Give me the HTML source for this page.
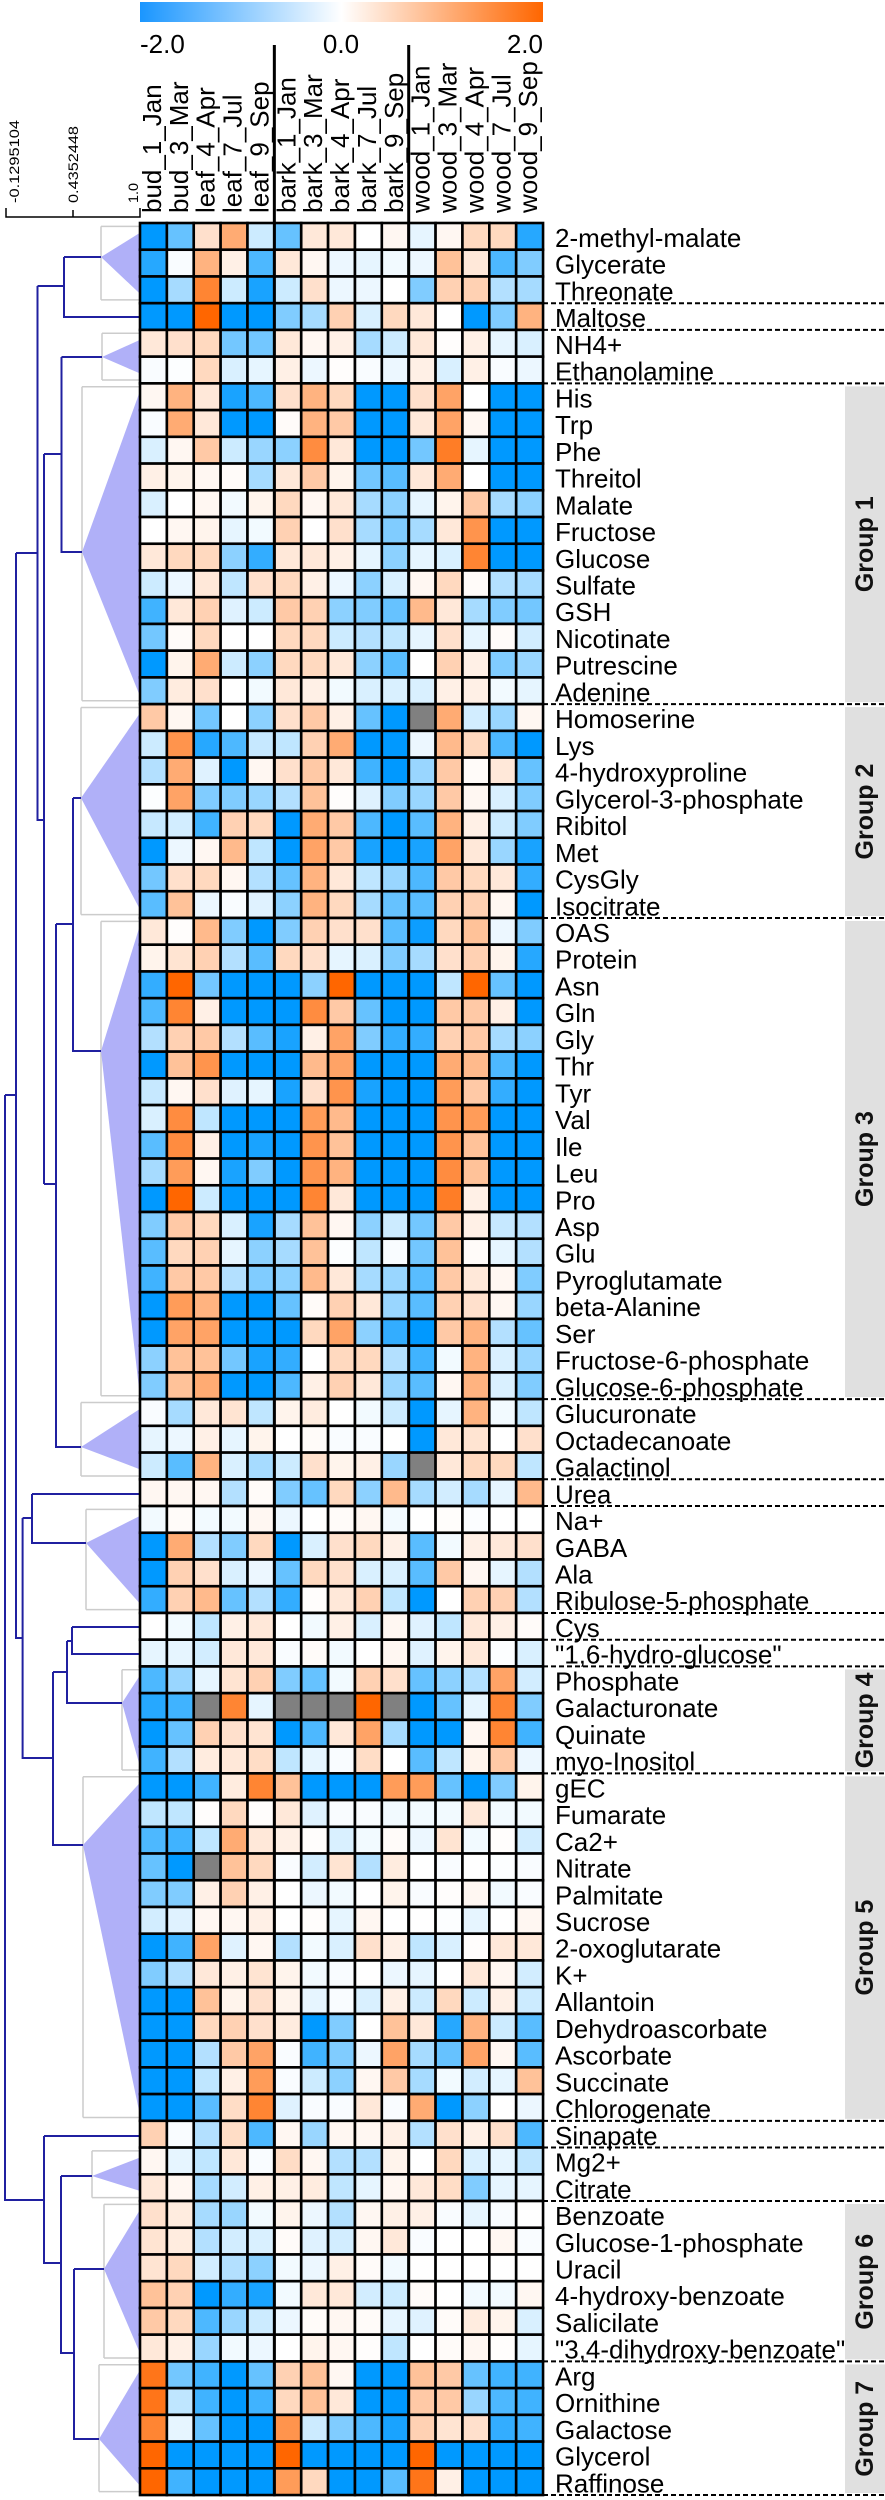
<!DOCTYPE html>
<html><head><meta charset="utf-8"><title>Metabolite heatmap</title>
<style>
html,body{margin:0;padding:0;background:#fff;}
svg{display:block;font-family:"Liberation Sans",Arial,sans-serif;}
</style></head>
<body>
<svg id="chart" width="885" height="2500" viewBox="0 0 885 2500" xmlns="http://www.w3.org/2000/svg">
<defs>
<linearGradient id="cbar" x1="0" x2="1" y1="0" y2="0">
<stop offset="0" stop-color="#1a96ff"/><stop offset="0.5" stop-color="#ffffff"/><stop offset="1" stop-color="#ff6600"/>
</linearGradient>
</defs>
<rect x="140" y="2" width="403" height="20" fill="url(#cbar)"/>
<g id="g-dendro"></g>
<g id="g-cells"></g>
<g id="g-labels"></g>
</svg>
<script>
const samples = ["bud_1_Jan","bud_3_Mar","leaf_4_Apr","leaf_7_Jul","leaf_9_Sep","bark_1_Jan","bark_3_Mar","bark_4_Apr","bark_7_Jul","bark_9_Sep","wood_1_Jan","wood_3_Mar","wood_4_Apr","wood_7_Jul","wood_9_Sep"];
const metabolites = ["2-methyl-malate","Glycerate","Threonate","Maltose","NH4+","Ethanolamine","His","Trp","Phe","Threitol","Malate","Fructose","Glucose","Sulfate","GSH","Nicotinate","Putrescine","Adenine","Homoserine","Lys","4-hydroxyproline","Glycerol-3-phosphate","Ribitol","Met","CysGly","Isocitrate","OAS","Protein","Asn","Gln","Gly","Thr","Tyr","Val","Ile","Leu","Pro","Asp","Glu","Pyroglutamate","beta-Alanine","Ser","Fructose-6-phosphate","Glucose-6-phosphate","Glucuronate","Octadecanoate","Galactinol","Urea","Na+","GABA","Ala","Ribulose-5-phosphate","Cys","\"1,6-hydro-glucose\"","Phosphate","Galacturonate","Quinate","myo-Inositol","gEC","Fumarate","Ca2+","Nitrate","Palmitate","Sucrose","2-oxoglutarate","K+","Allantoin","Dehydroascorbate","Ascorbate","Succinate","Chlorogenate","Sinapate","Mg2+","Citrate","Benzoate","Glucose-1-phosphate","Uracil","4-hydroxy-benzoate","Salicilate","\"3,4-dihydroxy-benzoate\"","Arg","Ornithine","Galactose","Glycerol","Raffinose"];
const N = null;
const zValues = [
[-2,-1.2,0.4,1.1,-0.4,-1.2,0.3,0.3,0,0.1,-0.2,0.1,0.5,0.5,-1.7],
[-1.7,-0.05,1.0,0.2,-1.4,0.3,0.1,-0.15,-0.2,-0.1,-0.15,0.8,0.3,-1.4,-1.0],
[-2,-0.7,1.6,-0.4,-1.8,-0.4,0.4,-0.15,-0.15,0,-1.0,0.6,0.6,-0.6,-0.7],
[-2,-2,2,-2,-2,-1.0,-0.7,0.6,-0.3,0.5,0.3,0,-2,-1.0,1.0],
[0.3,0.4,0.5,-1.1,-1.1,0.3,0.1,0.2,-0.7,-0.4,0.3,0.02,0.2,-0.2,-0.3],
[-0.05,-0.02,0.5,-0.3,-0.2,0.2,-0.15,0.02,-0.05,-0.15,0.2,-0.3,0.2,-0.05,-0.15],
[0.1,1.0,0.3,-1.8,-1.4,0.4,1.0,0.5,-2,-2,0.4,1.2,0,-2,-2],
[-0.05,1.1,0.3,-2,-2,0.05,1.0,0.7,-2,-2,0.3,1.2,0.1,-2,-2],
[-0.3,0.1,0.7,-0.4,-0.8,-0.9,1.5,0.3,-2,-2,-1.1,1.7,-0.2,-2,-2],
[0.2,0.15,0.1,0.05,-0.7,0.3,0.7,0.15,-1.1,-1.3,0.3,1.1,0,-2,-2],
[-0.3,0,0.1,-0.1,0.15,0.5,0.1,0.3,-0.7,-0.9,-0.2,0.15,0.7,-0.7,-0.9],
[0,0.1,0.15,-0.2,-0.1,0.6,0,0.4,-0.7,-1.0,-0.7,0.3,1.4,-2,-2],
[0.3,0.5,0.5,-0.9,-1.6,0.3,0.3,0.2,-0.2,-0.9,-0.2,-0.3,1.6,-2,-2],
[-0.4,-0.15,0.3,-0.5,0.4,0.5,0.2,-0.15,-0.9,-0.3,0.1,0.5,0.05,-0.6,-0.7],
[-1.5,0.3,0.6,-0.25,-0.4,0.7,0.6,-0.9,-1.0,-1.2,0.9,0.3,-0.7,-1.0,-1.1],
[-1.1,0.05,0.5,0,0,0.5,0.5,-0.4,-0.6,-0.5,-0.2,0.4,-0.2,0.05,-0.35],
[-2,0.15,1.1,-0.4,-0.9,0.5,0.5,0.3,-0.9,-1.3,0,0.6,0.2,-1.0,-0.8],
[-1.0,0.25,0.4,0,-0.1,0.3,0.2,-0.1,-0.3,-0.3,-0.3,0.2,0.2,-0.1,-0.2],
[0.7,0.1,-1.1,0,-0.9,0.4,0.7,0.2,-1.2,-2,N,1.1,-0.35,-0.8,0.1],
[-0.4,1.4,-1.7,-1.4,-0.45,-0.5,0.6,1.1,-2,-2,-0.15,0.9,0.5,-1.4,-2],
[-0.6,1.1,-0.25,-2,0.1,0.4,0.7,0.3,-1.5,-2,-0.8,0.7,0.05,0.3,-1.2],
[-0.02,1.2,-1.0,-1.0,-0.8,-0.6,0.8,0.02,-0.25,-1.0,-0.8,0.7,0.1,-0.3,-1.0],
[-0.45,-0.35,-1.5,0.6,0.5,-2,1.1,0.7,-1.4,-2,-1.3,1.0,0.2,-0.4,-1.0],
[-2,-0.15,0.1,0.9,-0.5,-2,1.2,0.7,-1.8,-2,-1.8,1.2,0.3,-0.8,-1.8],
[-1.1,0.4,0.5,0.1,-0.6,-1.2,1.0,0.3,-0.5,-0.8,-1.4,0.7,0.5,0.3,-1.6],
[-1.3,0.8,-0.15,-0.05,-0.25,-0.9,1.0,0.5,-0.7,-1.2,-1.3,0.6,0.6,0.1,-2],
[0.3,0.02,0.9,-1.0,-2,-1.0,0.6,0.4,0.4,-1.3,-1.9,0.5,0.8,-0.15,-1.0],
[0.15,0.35,0.6,-0.6,-1.3,0.5,0.4,-0.2,-0.3,-1.0,-0.7,0.4,0.6,0.15,-1.7],
[-1.6,2,-1.1,-2,-2,-2,-0.9,2,-2,-2,-2,-0.5,2,-1.2,-2],
[-1.4,1.6,0.2,-2,-2,-2,1.5,0.7,-1.2,-2,-2,0.7,0.7,0.2,-2],
[-0.6,0.6,0.7,-0.6,-1.3,-1.8,0.2,1.2,-1.0,-1.6,-1.6,0.6,0.7,-0.7,-0.9],
[-2,0.8,1.4,-2,-2,-2,0.9,1.2,-2,-2,-2,1.1,0.9,-1.4,-2],
[-0.45,0.1,0.4,-0.25,-0.2,-1.8,0.4,1.4,-1.8,-2,-2,1.3,0.7,-1.6,-2],
[-0.3,1.5,-0.5,-2,-2,-2,1.3,0.9,-2,-2,-2,1.4,1.3,-2,-2],
[-1.3,1.5,0.2,-2,-1.8,-2,1.4,0.8,-2,-2,-2,1.4,0.8,-2,-2],
[-0.7,1.3,0.1,-1.8,-1.0,-2,1.4,1.0,-2,-2,-2,1.5,0.8,-2,-2],
[-2,2,-0.4,-2,-2,-2,1.6,0.3,-2,-2,-2,1.7,0.2,-2,-2],
[-1.0,0.7,0.5,-0.3,-1.8,-0.7,0.8,0.1,-0.9,-0.4,-1.1,0.7,0.2,-0.45,-0.6],
[-1.3,0.5,0.6,-0.2,-0.9,-0.7,0.8,-0.02,-0.5,-0.05,-1.1,0.8,0.05,-0.2,-0.6],
[-1.5,0.7,0.7,-0.6,-1.0,-0.9,0.9,0.3,-0.7,-0.8,-1.3,0.7,0.3,0.1,-1.0],
[-2,1.3,1.0,-2,-2,-1.2,0.05,0.6,0.3,-0.8,-1.3,0.6,0.4,0.1,-0.8],
[-2,1.2,1.2,-2,-2,-2,0.5,1.2,-0.9,-1.6,-2,0.7,1.0,-0.6,-1.2],
[-0.9,0.8,0.8,-1.1,-1.8,-1.6,0,0.5,0.5,-0.6,-1.5,-0.1,1.0,-0.3,-0.8],
[-1.0,0.8,1.1,-2,-2,-1.4,0.2,0.6,0.3,-0.8,-1.3,0.1,1.0,-0.3,-1.0],
[-0.05,-0.7,0.3,0.35,-0.5,0.15,0.25,0,-0.1,-0.4,-2,-0.2,1.0,-0.1,-0.5],
[-0.2,-0.15,0.2,-0.2,0.15,0,0.05,-0.05,-0.05,0,-2,0.3,0.35,0,0.4],
[-0.4,-1.3,1.0,-0.3,-0.7,-0.4,0.4,0.15,0.2,-0.8,N,0.3,0.5,0.5,-0.5],
[0.1,0.1,0.1,-0.6,0.05,-1.0,-1.2,0.5,-0.9,0.9,-0.7,-0.35,-0.7,-0.2,0.9],
[-0.1,0.05,-0.1,-0.1,0.1,-0.15,0,0.05,0.1,-0.1,0,0.03,-0.03,0,0],
[-2,1.1,-0.6,-1.0,0.5,-2,-0.3,0.4,0.5,0.2,-1.3,-0.1,0.2,0.3,0.4],
[-2,0.6,0.4,-0.3,-0.15,-1.2,0.5,0.4,-0.3,-0.3,-1.3,0.7,0.1,-0.2,-0.6],
[-1.6,0.6,0.9,-1.2,-0.6,-1.6,0.02,0.3,0.6,-0.5,-2,0,0.6,0.6,-0.6],
[0,-0.1,-0.5,0.2,0.3,0,-0.1,0.2,-0.3,0.1,-0.25,-0.5,0.3,0.2,0.05],
[-0.2,-0.2,-0.35,0.3,0.3,-0.05,0.05,-0.1,0,0.1,-0.25,0.15,0.3,-0.02,-0.3],
[-1.4,-0.8,-0.2,0.35,0.6,-1.0,-1.2,-0.1,0.6,0.4,-1.2,-0.9,-0.6,1.2,-0.35],
[-1.7,-1.5,N,1.6,-0.2,N,N,N,2,N,-2,-1.2,-0.2,1.6,-1.0],
[-2,-1.2,0.6,0.4,0.35,-2,-1.4,0.3,1.2,-0.7,-2,-2,0.1,1.6,-1.5],
[-1.5,-0.6,0.25,0.3,0.45,-0.5,-0.2,-0.05,0.45,0,-1.3,-0.5,0.15,0.7,-0.15],
[-2,-2,-1.5,0.25,1.6,0.8,-2,-2,-2,1.3,1.3,-1.2,-2,-1.0,0.15],
[-0.5,-0.5,0.02,0.5,0.02,0.3,-0.25,-0.05,-0.05,-0.1,-0.1,-0.1,0.3,-0.1,-0.1],
[-1.4,-1.5,-0.5,1.1,0.3,0.2,0.02,-0.3,-0.1,0.05,-0.15,0.35,-0.1,0.02,-0.35],
[-1.2,-2,N,0.8,0.5,-0.05,-0.35,0.35,-0.6,0.25,0,-0.05,0,-0.02,-0.05],
[-1.0,-1.0,0.2,0.6,0.2,0,-0.15,-0.1,0,0.15,-0.05,0.02,0.1,-0.1,-0.05],
[-0.35,-0.25,0.1,0.1,0.2,0,0.02,-0.2,0.1,0,0,-0.02,-0.2,0,0.1],
[-2,-1.5,1.2,-0.25,0.1,-0.6,-0.1,-0.3,0.4,0.2,-0.5,-0.3,0.02,0.3,0.3],
[-1.0,-0.6,0.3,0.2,0.35,0.15,-0.1,-0.05,0,-0.15,-0.2,0,0.3,0.1,-0.35],
[-2,-2,0.8,0.15,0.4,0.15,-0.2,-0.05,-0.3,0.2,-0.4,0.5,-0.4,0.2,-0.4],
[-2,-2,0.5,0.6,0.4,0.25,-2,-1.0,0,0.8,0.3,-1.7,1.0,-0.4,-1.3],
[-2,-2,-0.6,0.7,1.2,-0.05,-1.5,-1.0,-0.15,1.2,-0.7,-1.2,1.2,0.1,-1.3],
[-2,-2,-0.5,0.2,1.3,-0.05,-0.4,-0.9,0.1,0.7,-0.7,-0.1,-0.35,-0.2,0.8],
[-2,-2,-1.3,0.45,1.6,-0.25,-0.05,-0.05,0.3,-0.05,1.1,-2,-0.9,0,-0.15],
[0.6,-0.05,-0.6,0.45,-1.4,0.1,-0.8,0.1,0.1,0.2,-0.6,0.4,0.2,0.4,-1.4],
[0.1,-0.2,-0.5,0.3,-0.05,0.45,0.1,-0.6,-0.6,0.15,0,0.5,-0.3,-0.2,-0.5],
[0.3,0.1,-0.7,-0.35,0.2,0.2,0.25,-0.5,-0.2,0.1,0.3,0.45,-1.0,-0.2,-0.2],
[0.4,0.25,-0.7,-0.8,-0.1,0.15,-0.15,-0.6,0.1,0.2,0.2,-0.05,-0.2,-0.05,0],
[0.35,0.25,-0.6,-0.35,-0.3,0.05,-0.25,-0.35,0.1,0.3,-0.05,0,0,0.1,-0.05],
[0.35,0.5,-0.35,-0.6,-0.9,-0.1,-0.15,0.2,0.05,-0.1,0,0,0,0,0],
[0.8,0.6,-2,-1.6,-1.8,-0.1,0.3,0.3,-0.35,-0.4,0.05,0,-0.1,-0.1,0.1],
[0.7,0.5,-1.4,-0.8,-0.4,-0.15,0.05,0.1,0.05,-0.2,-0.25,0.05,0.25,0.15,-0.3],
[0.3,0.2,-0.8,-0.1,-0.15,0,0.15,0.1,0.02,-0.5,0,0.05,0.1,0.02,-0.2],
[1.8,-1.1,-1.5,-2,-1.2,0.6,0.8,0.1,-2,-2,0.8,0.7,-1.2,-1.5,-1.5],
[1.8,-0.5,-1.5,-2,-1.5,0.5,0.8,0.3,-2,-2,0.7,0.7,-0.8,-1.4,-1.5],
[1.6,-0.2,-1.2,-2,-2,1.4,-0.4,-1.0,-1.4,-1.8,0.6,0.35,0.4,-1.6,-1.5],
[2,-2,-2,-2,-2,2,-2,-2,-2,-2,2,-2,-2,-2,-2],
[2,-1.5,-2,-2,-2,1.3,0.5,-2,-2,-1.3,1.8,0.2,-2,-2,-2]
];
const colorTicks = ["-2.0","0.0","2.0"];
const scaleTicks = ["-0.1295104","0.4352448","1.0"];
const groupNames = ["Group 1","Group 2","Group 3","Group 4","Group 5","Group 6","Group 7"];
const groupStart = [6,18,26,54,58,74,80];
const groupEnd = [17,25,43,57,70,79,84];
const dashedAfter = [2,3,5,17,25,43,46,47,51,52,53,57,70,71,73,79,84];

const NS = "http://www.w3.org/2000/svg";
const X0 = 140, CW = 26.87, Y0 = 223, RH = 26.73;
const xCol = i => X0 + i * CW;
const yRow = i => Y0 + i * RH;
const yMid = i => Y0 + (i + 0.5) * RH;
function colorFor(v) {
  if (v === null) return "#808080";
  const t = Math.max(-1, Math.min(1, v / 2));
  let r, g, b;
  if (t < 0) { const a = -t; r = 255 * (1 - a); g = 255 - (255 - 153) * a; b = 255; }
  else { const a = t; r = 255; g = 255 - (255 - 102) * a; b = 255 * (1 - a); }
  return "rgb(" + Math.round(r) + "," + Math.round(g) + "," + Math.round(b) + ")";
}
function mk(tag, attrs, parent) {
  const e = document.createElementNS(NS, tag);
  for (const k in attrs) e.setAttribute(k, attrs[k]);
  parent.appendChild(e);
  return e;
}
const gC = document.getElementById("g-cells");
const gL = document.getElementById("g-labels");
const gD = document.getElementById("g-dendro");

// cells
zValues.forEach((row, r) => {
  row.forEach((v, c) => {
    const rc = mk("rect", {x: xCol(c), y: yRow(r), width: CW, height: RH, fill: colorFor(v), stroke: "#000", "stroke-width": 2.6}, gC);
    
    
  });
});
// tissue separators
[5, 10].forEach(c => {
  const l = mk("line", {x1: xCol(c), x2: xCol(c), y1: 45, y2: yRow(metabolites.length), stroke: "#000", "stroke-width": 3}, gC);
  
  
});
// column labels
samples.forEach((s, c) => {
  const bx = xCol(c) + 21, by = 213;
  const t = mk("text", {x: 0, y: 0, transform: "translate(" + bx + "," + by + ") rotate(-90)", "font-size": 26, fill: "#000"}, gL);
  t.textContent = s;
  
  
});
// color ticks
const ctx = [X0, 341, 543], cta = ["start", "middle", "end"];
colorTicks.forEach((s, i) => {
  const t = mk("text", {x: ctx[i], y: 53, "font-size": 26, "text-anchor": cta[i], fill: "#000"}, gL);
  t.textContent = s;
  
  
});
// row labels
metabolites.forEach((m, r) => {
  const t = mk("text", {x: 555, y: yRow(r) + 24, "font-size": 26, fill: "#000"}, gL);
  t.textContent = m;
  
  
});
// group boxes
groupNames.forEach((g, i) => {
  const y1 = yRow(groupStart[i]) + 3, y2 = yRow(groupEnd[i] + 1) - 2;
  const b = mk("rect", {x: 845, y: y1, width: 40, height: y2 - y1, fill: "#e0e0e0"}, gL);
  
  
  const cy = (y1 + y2) / 2;
  const t = mk("text", {x: 0, y: 0, transform: "translate(873," + cy + ") rotate(-90)", "font-size": 25, "font-weight": "bold", "text-anchor": "middle", fill: "#111"}, gL);
  t.textContent = g;
  
  
});
// dashed separators
dashedAfter.forEach(r => {
  const y = yRow(r + 1);
  const l = mk("line", {x1: 543, x2: 885, y1: y, y2: y, stroke: "#000", "stroke-width": 2, "stroke-dasharray": "5,3"}, gL);
  
  
});
// scale bar
const sb = mk("path", {d: "M6,208 V217 H140 V208 M73,217 V210", stroke: "#000", "stroke-width": 1.5, fill: "none"}, gD);


const stx = [19, 78, 138], stl = [83, 77, 20];
scaleTicks.forEach((s, i) => {
  const t = mk("text", {x: 0, y: 0, transform: "translate(" + stx[i] + ",203) rotate(-90)", "font-size": 14, textLength: stl[i], lengthAdjust: "spacingAndGlyphs", fill: "#000"}, gD);
  t.textContent = s;
  
  
});
// cluster triangles
const tris = [[0,2,101,257],[4,5,102,357],[6,17,82,552],[18,25,81,798],[26,43,101,1051],[44,46,81,1447],[48,51,86,1543],[54,57,122,1703],[58,70,83,1845],[72,73,92,2176],[74,79,104,2269],[80,84,99,2439]];
tris.forEach(t => {
  const a = yMid(t[0]) - 10, b = yMid(t[1]) + 10;
  const g = mk("path", {d: "M" + t[2] + "," + (t[0] === t[1] ? yMid(t[0]) : a) + " H" + (t[2] + 10) + " M" + t[2] + "," + a + " V" + b + " M" + t[2] + "," + a + " H139 M" + t[2] + "," + b + " H139", stroke: "#cccccc", "stroke-width": 1.5, fill: "none"}, gD);
  
  
  const p = mk("polygon", {points: t[2] + "," + t[3] + " 139," + (yMid(t[0]) - 3) + " 139," + (yMid(t[1]) + 3), fill: "#b0b0f8"}, gD);
  
  
});
// main tree
const tree = "M64,257 H101 M64,257 V317 H139 M37.5,286 H64 M37.5,286 V820 H44 M44,454 V1184 M44,454 H61.5 M61.5,357 H102 M61.5,357 V552 H82 M44,1184 H56 M56,924 V1447 H81 M56,924 H73 M73,798 H81 M73,798 V1051 H101 M16,553 H37.5 M16,553 V1638 H22.6 M5,1095 H16 M5,1095 V2200 H44 M22.6,1518 V1758 H53 M22.6,1518 H32 M32,1494 H139 M32,1494 V1543 H86 M53,1672 V1845 H83 M53,1672 H67 M67,1641 V1703 H122 M67,1641 H72 M72,1627 H139 M72,1627 V1654 H139 M44,2136 H139 M44,2136 V2263 H61 M61,2176 H92 M61,2176 V2353 H74 M74,2269 H104 M74,2269 V2439 H99";
const tr = mk("path", {d: tree, stroke: "#2020a0", "stroke-width": 2, fill: "none"}, gD);


</script>
</body></html>
